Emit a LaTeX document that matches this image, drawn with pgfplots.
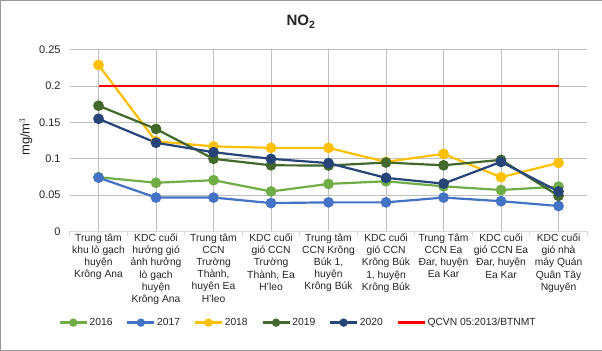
\documentclass[border=0pt]{standalone}
\usepackage{pgfplots}
\pgfplotsset{compat=1.18}
\usepackage{fontspec}
\setmainfont{Liberation Sans}
\definecolor{c16}{HTML}{70AD47}
\definecolor{c17}{HTML}{4472C4}
\definecolor{c18}{HTML}{FFC000}
\definecolor{c19}{HTML}{43682B}
\definecolor{c20}{HTML}{264478}
\definecolor{grid}{HTML}{D9D9D9}
\definecolor{txt}{HTML}{262626}
\begin{document}
\begin{tikzpicture}
\draw[fill=white,draw=gray!80] (0.5pt,0.5pt) rectangle (601.5pt,350.5pt);
\node[font=\fontsize{15}{17}\selectfont\bfseries,text=txt] at (301pt,329pt) {NO$_\mathbf{2}$};
\begin{axis}[
  at={(70pt,119.5pt)}, anchor=south west,
  scale only axis, width=517pt, height=181.5pt,
  xmin=-0.5, xmax=8.5, ymin=0, ymax=0.25,
  axis y line*=left, axis x line*=bottom,
  y axis line style={draw=none},
  x axis line style={draw=grid, line width=0.8pt},
  ytick={0,0.05,0.1,0.15,0.2,0.25},
  yticklabels={0,0.05,0.1,0.15,0.2,0.25},
  ymajorgrids, grid style={grid, line width=0.8pt},
  major y tick style={draw=none},
  xtick={0,...,8},
  major x tick style={draw=none},
  extra x ticks={-0.5,0.5,1.5,2.5,3.5,4.5,5.5,6.5,7.5,8.5},
  extra x tick labels={},
  extra x tick style={grid=none, tick align=outside, major tick length=5pt, major x tick style={draw=grid, line width=0.8pt}},
  xticklabels={
    {Trung tâm\\khu lò gạch\\huyện\\Krông Ana},
    {KDC cuối\\hướng gió\\ảnh hưởng\\lò gạch\\huyện\\Krông Ana},
    {Trung tâm\\CCN\\Trường\\Thành,\\huyện Ea\\H'leo},
    {KDC cuối\\gió CCN\\Trường\\Thành, Ea\\H'leo},
    {Trung tâm\\CCN Krông\\Búk 1,\\huyện\\Krông Búk},
    {KDC cuối\\gió CCN\\Krông Búk\\1, huyện\\Krông Búk},
    {Trung Tâm\\CCN Ea\\Đar, huyện\\Ea Kar},
    {KDC cuối\\gió CCN Ea\\Đar, huyện\\Ea Kar},
    {KDC cuối\\gió nhà\\máy Quán\\Quân Tây\\Nguyên}},
  xticklabel style={align=center, anchor=north, yshift=-1pt, text=txt, font=\fontsize{10.3}{12.2}\selectfont, inner sep=1pt},
  yticklabel style={text=txt, font=\fontsize{11}{12}\selectfont, inner sep=0pt, anchor=east, xshift=-9pt},
  /pgf/number format/assume math mode=true,
  ylabel={mg/m$^3$},
  ylabel style={text=txt, font=\fontsize{13}{14}\selectfont, at={(axis description cs:-0.085,0.52)}, anchor=center},
  legend columns=6,
  legend style={at={(-0.0222,-0.502)}, anchor=west, draw=none, fill=none, inner sep=0pt,
    font=\fontsize{10.3}{12}\selectfont, text=txt,
    nodes={inner sep=1.5pt},
    /tikz/every even column/.append style={column sep=12pt}},
  legend image code/.code={
    \draw[#1, mark=none, line width=2.6pt] (0pt,0pt) -- (27pt,0pt);
    \draw[#1, only marks, mark size=3pt] plot coordinates {(13.5pt,0pt)};
  },
  every axis plot/.append style={line width=2.2pt, mark=*, mark size=4.2pt, mark options={solid}},
]
\addplot[c16, mark options={fill=c16, draw=c16}] coordinates {(0,0.0746) (1,0.067) (2,0.0705) (3,0.055) (4,0.0654) (5,0.069) (6,0.062) (7,0.057) (8,0.0617)};
\addlegendentry{2016}
\addplot[c17, mark options={fill=c17, draw=c17}] coordinates {(0,0.074) (1,0.0466) (2,0.0466) (3,0.039) (4,0.040) (5,0.040) (6,0.0466) (7,0.0416) (8,0.035)};
\addlegendentry{2017}
\addplot[c18, mark options={fill=c18, draw=c18}] coordinates {(0,0.229) (1,0.124) (2,0.117) (3,0.115) (4,0.115) (5,0.0957) (6,0.1067) (7,0.0746) (8,0.0943)};
\addlegendentry{2018}
\addplot[c19, mark options={fill=c19, draw=c19}] coordinates {(0,0.173) (1,0.141) (2,0.0999) (3,0.091) (4,0.0907) (5,0.0948) (6,0.091) (7,0.0985) (8,0.049)};
\addlegendentry{2019}
\addplot[c20, mark options={fill=c20, draw=c20}] coordinates {(0,0.155) (1,0.122) (2,0.109) (3,0.0999) (4,0.094) (5,0.0737) (6,0.0658) (7,0.0957) (8,0.055)};
\addlegendentry{2020}
\addplot[red, mark=none, line width=1.6pt] coordinates {(0,0.2) (1,0.2) (2,0.2) (3,0.2) (4,0.2) (5,0.2) (6,0.2) (7,0.2) (8,0.2)};
\addlegendentry{QCVN 05:2013/BTNMT}
\end{axis}
\end{tikzpicture}
\end{document}
